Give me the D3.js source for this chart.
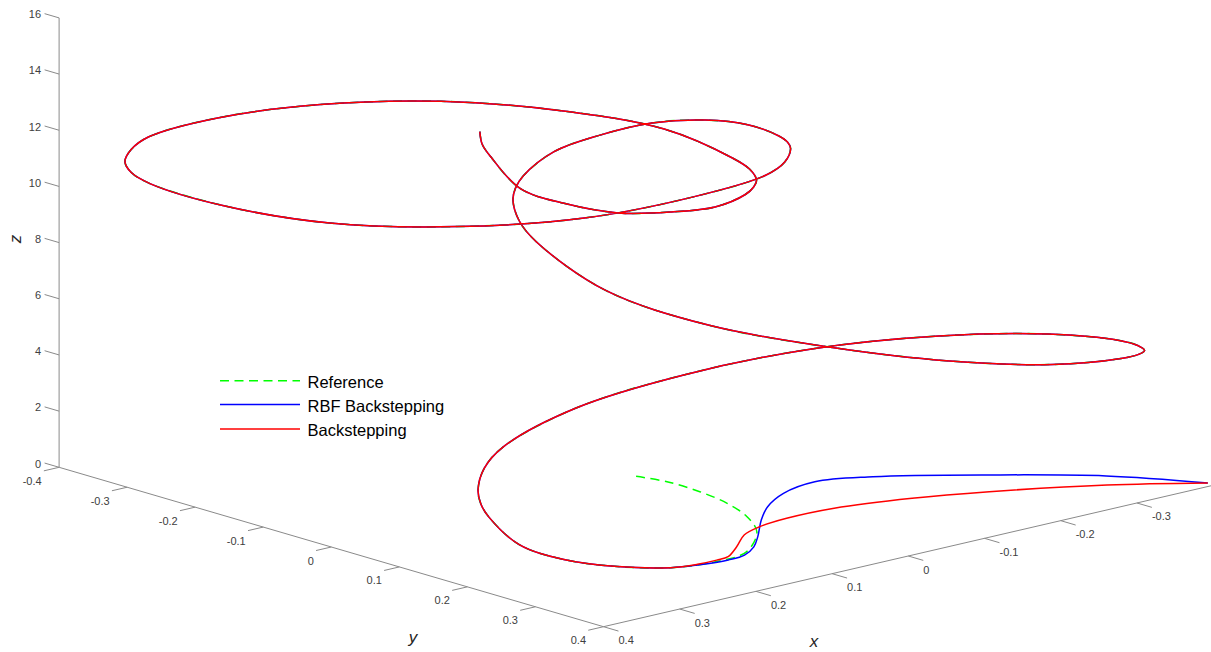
<!DOCTYPE html>
<html><head><meta charset="utf-8">
<script src="https://cdn.jsdelivr.net/npm/d3@7"></script>
<style>body{margin:0;background:#fff;overflow:hidden} text{font-family:"Liberation Sans",Arial,Helvetica,sans-serif}</style>
</head><body><svg id="c" width="1211" height="652"></svg>
<script>
// ---------- data ----------
const zTicks = [0, 2, 4, 6, 8, 10, 12, 14, 16];
const yTicks = [-0.4, -0.3, -0.2, -0.1, 0, 0.1, 0.2, 0.3, 0.4];
const xTicks = [0.4, 0.3, 0.2, 0.1, 0, -0.1, -0.2, -0.3];
const seriesNames = ["Reference", "RBF Backstepping", "Backstepping"];

// shared part of the trajectory (all three curves overlap here)
const trackX = [0.326, 0.380, 0.419, 0.432, 0.403, 0.385, 0.361,
  0.311, 0.252, 0.119, -0.025, -0.166, -0.274, -0.341, -0.360, -0.352, -0.336,
  -0.313, -0.281, -0.198, -0.114, -0.043, 0.008, 0.014, -0.039, -0.070, -0.109,
  -0.132, -0.159, -0.224, -0.280, -0.333, -0.362, -0.364, -0.341, -0.323, -0.301,
  -0.254, -0.197, -0.072, 0.077, 0.209, 0.311, 0.363, 0.379, 0.374, 0.360,
  0.334, 0.299, 0.218, 0.127, 0.048, 0.001, -0.011, 0.029, 0.053, 0.084,
  0.113, 0.146, 0.217, 0.279, 0.338, 0.371, 0.384, 0.344, 0.327, 0.306];
const trackY = [0.416, 0.398, 0.363, 0.312, 0.235, 0.203, 0.172,
  0.125, 0.087, 0.045, 0.042, 0.072, 0.138, 0.223, 0.307, 0.343, 0.371,
  0.388, 0.398, 0.390, 0.333, 0.235, 0.115, -0.029, -0.190, -0.250, -0.303,
  -0.325, -0.344, -0.372, -0.369, -0.350, -0.304, -0.242, -0.172, -0.139, -0.110,
  -0.066, -0.031, 0.002, 0.010, -0.029, -0.102, -0.201, -0.290, -0.323, -0.348,
  -0.368, -0.382, -0.371, -0.322, -0.233, -0.109, 0.029, 0.174, 0.226, 0.271,
  0.299, 0.324, 0.359, 0.364, 0.352, 0.311, 0.260, 0.172, 0.140, 0.113];
const trackZ = [1.75, 2, 2.25, 2.5, 2.75, 2.875, 3,
  3.125, 3.25, 3.5, 3.75, 4, 4.25, 4.5, 4.75, 4.875, 5,
  5.125, 5.25, 5.5, 5.75, 6, 6.25, 6.5, 6.75, 6.875, 7,
  7.125, 7.25, 7.5, 7.75, 8, 8.25, 8.5, 8.75, 8.875, 9,
  9.125, 9.25, 9.5, 9.75, 10, 10.25, 10.5, 10.75, 10.875, 11,
  11.125, 11.25, 11.5, 11.75, 12, 12.25, 12.5, 12.75, 12.875, 13,
  13.125, 13.25, 13.5, 13.75, 14, 14.25, 14.5, 14.75, 14.875, 15];

// start segments (before joining the shared track)
const refStartX = [0, 0.005, 0.020, 0.043, 0.076, 0.121, 0.195, 0.261];
const refStartY = [0, 0.051, 0.116, 0.182, 0.248, 0.313, 0.381, 0.409];
const refStartZ = [0, 0.2, 0.4, 0.6, 0.8, 1.0, 1.25, 1.5];

const rbfStartX = [-0.402, -0.324, -0.220, -0.116, -0.047, 0.012, 0.064, 0.109, 0.160, 0.192, 0.223, 0.254, 0.296];
const rbfStartY = [0.390, 0.328, 0.273, 0.218, 0.210, 0.230, 0.265, 0.306, 0.358, 0.388, 0.409, 0.420, 0.422];
const rbfStartZ = [0, 0.3, 0.6, 0.8, 1.0, 1.1, 1.2, 1.3, 1.4, 1.45, 1.5, 1.6, 1.7];

const bsStartX = [-0.402, -0.309, -0.192, -0.105, -0.009, 0.065, 0.113, 0.152, 0.194, 0.232, 0.256, 0.291];
const bsStartY = [0.390, 0.346, 0.304, 0.288, 0.281, 0.294, 0.308, 0.329, 0.365, 0.395, 0.405, 0.416];
const bsStartZ = [0, 0.2, 0.4, 0.6, 0.8, 1.0, 1.1, 1.2, 1.3, 1.4, 1.5, 1.65];

// ---------- projection (orthographic 3D view) ----------
const xDx = d3.scaleLinear().domain([0.4, -0.4]).range([0, 609.6]);
const xDy = d3.scaleLinear().domain([0.4, -0.4]).range([0, -141.4]);
const yDx = d3.scaleLinear().domain([-0.4, 0.4]).range([59.1, 603.5]);
const yDy = d3.scaleLinear().domain([-0.4, 0.4]).range([0, 159.4]);
const zS  = d3.scaleLinear().domain([0, 16]).range([467.3, 17.9]);
const P = (x, y, z) => [yDx(y) + xDx(x), zS(z) + xDy(x) + yDy(y)];

const svg = d3.select("#c");
const axisCol = "#8a8a8a", txtCol = "#404040";

// ---------- axes ----------
const g = svg.append("g");
function seg(a, b) {
  g.append("line").attr("x1", a[0]).attr("y1", a[1]).attr("x2", b[0]).attr("y2", b[1])
    .attr("stroke", axisCol).attr("stroke-width", 1);
}
seg(P(0.4, -0.4, 0), P(0.4, -0.4, 16));   // z axis
seg(P(0.4, -0.4, 0), P(0.4, 0.4, 0));     // y axis
seg(P(0.4, 0.4, 0), P(-0.4, 0.4, 0));     // x axis

const fmt = v => String(+v.toFixed(1));
zTicks.forEach(z => {
  const a = P(0.4, -0.4, z), b = P(0.4, -0.4 - 0.0213, z);
  seg(a, b);
  g.append("text").attr("x", b[0] - 3.5).attr("y", b[1] + 0.5).attr("text-anchor", "end")
    .attr("dominant-baseline", "central").attr("font-size", 11).attr("fill", txtCol).text(fmt(z));
});
yTicks.forEach(y => {
  const a = P(0.4, y, 0), b = P(0.42, y, 0);
  seg(a, b);
  g.append("text").attr("x", a[0] - 17.5).attr("y", a[1] + 13.5).attr("text-anchor", "end")
    .attr("dominant-baseline", "central").attr("font-size", 11).attr("fill", txtCol).text(fmt(y));
});
xTicks.forEach(x => {
  const a = P(x, 0.4, 0), b = P(x, 0.422, 0);
  seg(a, b);
  g.append("text").attr("x", a[0] + 15).attr("y", a[1] + 13.5).attr("text-anchor", "start")
    .attr("dominant-baseline", "central").attr("font-size", 11).attr("fill", txtCol).text(fmt(x));
});
// axis titles
g.append("text").attr("x", 814).attr("y", 641).attr("text-anchor", "middle").attr("dominant-baseline", "central")
  .attr("font-size", 17).attr("font-style", "italic").attr("fill", "#262626").text("x");
g.append("text").attr("x", 413).attr("y", 637).attr("text-anchor", "middle").attr("dominant-baseline", "central")
  .attr("font-size", 17).attr("font-style", "italic").attr("fill", "#262626").text("y");
g.append("text").attr("transform", "translate(15,239) rotate(-90)").attr("text-anchor", "middle")
  .attr("dominant-baseline", "central").attr("font-size", 17).attr("font-style", "italic")
  .attr("fill", "#262626").text("z");

// ---------- curves ----------
function build(sx, sy, sz) {
  const pts = [];
  sx.forEach((v, i) => pts.push(P(v, sy[i], sz[i])));
  trackX.forEach((v, i) => pts.push(P(v, trackY[i], trackZ[i])));
  return pts;
}
const line = d3.line().curve(d3.curveCatmullRom.alpha(0.5));
const series = [
  {pts: build(refStartX, refStartY, refStartZ), color: "#00ff00", dash: "9,5.5"},
  {pts: build(rbfStartX, rbfStartY, rbfStartZ), color: "#0000ff", dash: null},
  {pts: build(bsStartX, bsStartY, bsStartZ), color: "#ff0000", dash: null}
];
series.forEach(s => {
  svg.append("path").attr("d", line(s.pts)).attr("fill", "none").attr("stroke", s.color)
    .attr("stroke-width", 1.5).attr("stroke-dasharray", s.dash);
});

// ---------- legend ----------
const lg = svg.append("g");
const lgY = [380.8, 404.6, 428.9];
series.forEach((s, i) => {
  lg.append("line").attr("x1", 220).attr("x2", 300).attr("y1", lgY[i]).attr("y2", lgY[i])
    .attr("stroke", s.color).attr("stroke-width", 1.5).attr("stroke-dasharray", s.dash);
  lg.append("text").attr("x", 307.5).attr("y", lgY[i] + 7.4).attr("font-size", 16.5)
    .attr("fill", "#000").text(seriesNames[i]);
});
</script></body></html>
